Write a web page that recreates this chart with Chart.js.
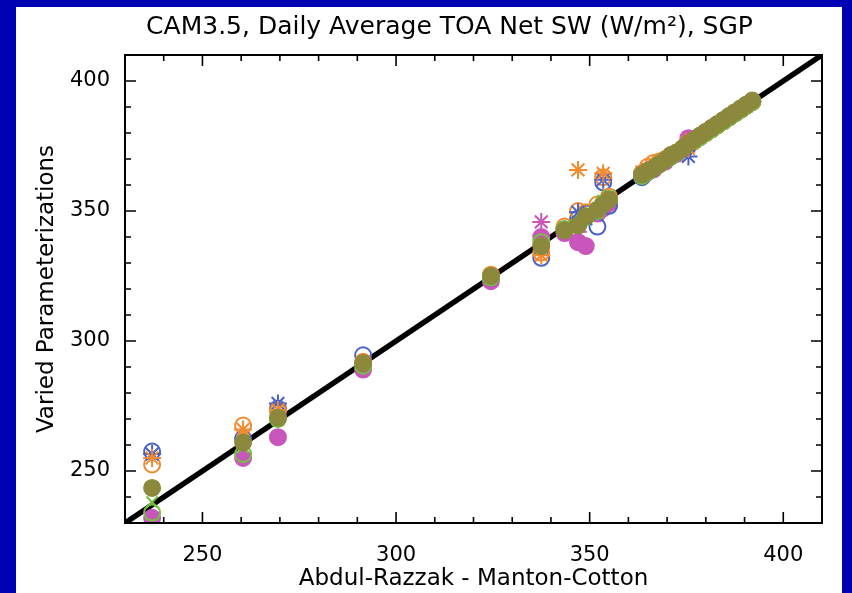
<!DOCTYPE html>
<html>
<head>
<meta charset="utf-8">
<script src="https://cdn.jsdelivr.net/npm/chart.js@4.4.1/dist/chart.umd.min.js"></script>
<style>
  html, body { margin: 0; padding: 0; background: #0000b4; width: 852px; height: 593px; overflow: hidden; }
  #panel { position: absolute; left: 16px; top: 7px; width: 826px; height: 586px; background: #ffffff; }
  canvas { display: block; }
</style>
</head>
<body>
<div id="panel"><canvas id="c" width="826" height="586"></canvas></div>
<script>
// Daily average TOA net shortwave (W/m2) at SGP.
// x: Abdul-Razzak / Manton-Cotton control run; y: runs with varied parameterizations.
const arMc = [237, 260.5, 269.5, 291.5, 324.5, 337.5, 343.5, 347, 349, 352, 353.5, 355,
              363.5, 365, 366.5, 368, 369.5, 371, 372.5, 374, 375.5, 377, 378.5, 380,
              381.5, 383, 384.5, 386, 387.5, 389, 390.5, 392];

const oliveFilled = [243.5, 261, 270.5, 291.5, 325, 336.5, 342.5, 344.5, 348, 350.5, 352.5, 354.5,
                     364, 365.5, 366.5, 368, 369.5, 371.5, 372.5, 374, 376, 377.5, 379, 380.5,
                     382, 383.5, 385, 386.5, 388, 389.5, 391, 392.5];
const blueOpen = [257.5, 262.5, 274, 294.5, 324.5, 332, 343, 347, 349, 344, 361, 352,
                  363, 365, 366.5, 368, 369.5, 371, 372.5, 374, 375, 377, 378.5, 380,
                  381.5, 383, 384.5, 386, 387.5, 389, 390.5, 392];
const blueStar = [256.5, null, 276, null, null, null, null, 349.5, 347, null, 362, null,
                  null, null, null, null, null, null, null, null, 371, null, null, null,
                  null, null, null, null, null, null, null, null];
const orangeOpen = [252.5, 267.5, 273, 292, 325.5, 334, 344, 350, 349.5, 352.5, 363, 355.5,
                    364.5, 367, 368.5, 369, 370, 371.5, 372.5, 374, 376.5, 377, 378.5, 380,
                    381.5, 383, 384.5, 386, 387.5, 389, 390.5, 392];
const orangeStar = [255, 266, 273.5, null, null, 333, null, 365.8, null, null, 364.5, null,
                    365, 366, null, null, null, null, null, null, 374, null, null, null,
                    null, null, null, null, null, null, null, null];
const magentaFilled = [232, 255, 263, 289, 323, 340, 341.5, 338, 336.5, 349, 351, 353,
                       363.5, 365, 366, 368, 369, 371, 372, 374, 378, 377, 378.5, 380,
                       381.5, 383, 384.5, 386, 387.5, 389, 390.5, 392];
const magentaStar = [null, null, null, null, null, 345.8, null, 342, null, null, null, null,
                     null, null, null, null, null, null, null, null, 377.5, null, null, null,
                     null, null, null, null, null, null, null, null];
const greenCross = [238, 259, 269.5, 291, 324, 335, 342, 346, 348, 351, 354, 356,
                    364, 365, 366.5, 368, 369.5, 371, 372.5, 374, 375.5, 377, 378.5, 380,
                    381.5, 383, 384.5, 386, 387.5, 389, 390.5, 392];
const greenOpen = [234, 256.5, 270, 290.5, 324.5, 338, 343, 345, 347.5, 350, 353, 354.5,
                   363.5, 365, 366.5, 368, 369.5, 371, 372.5, 374, 375.5, 377, 378.5, 380,
                   381.5, 383, 384.5, 386, 387.5, 389, 390.5, 392];

const axisMin = 230, axisMax = 410, majorStep = 50, minorStep = 10;
const oneToOne = [axisMin, axisMax];
const chartTitle = 'CAM3.5, Daily Average TOA Net SW (W/m\u00b2), SGP';

const pts = ys => arMc.map((x, i) => (ys[i] === null ? null : {x: x, y: ys[i]})).filter(p => p);

function series(label, ys, color, style, filled, radius) {
  return {
    label: label,
    data: pts(ys),
    pointStyle: style,
    pointRadius: radius,
    pointBorderWidth: 2,
    borderColor: color,
    pointBorderColor: color,
    pointBackgroundColor: filled ? color : 'rgba(0,0,0,0)',
    showLine: false
  };
}

const FONT = 'DejaVu Sans';

// Inward ticks on all four sides, the box frame and the heading.
const frame = {
  id: 'frame',
  afterDatasetsDraw(chart) {
    const {ctx, chartArea: a, scales: {x, y}} = chart;
    ctx.save();
    ctx.strokeStyle = '#000';
    ctx.lineWidth = 2;
    ctx.strokeRect(a.left, a.top, a.right - a.left, a.bottom - a.top);
    ctx.lineWidth = 1.6;
    ctx.beginPath();
    for (let v = axisMin; v <= axisMax; v += minorStep) {
      const len = v % majorStep === 0 ? 11 : 6;
      const px = x.getPixelForValue(v);
      ctx.moveTo(px, a.bottom); ctx.lineTo(px, a.bottom - len);
      ctx.moveTo(px, a.top); ctx.lineTo(px, a.top + len);
      const py = y.getPixelForValue(v);
      ctx.moveTo(a.left, py); ctx.lineTo(a.left + len, py);
      ctx.moveTo(a.right, py); ctx.lineTo(a.right - len, py);
    }
    ctx.stroke();
    ctx.fillStyle = '#000';
    ctx.font = '25px "' + FONT + '"';
    ctx.textAlign = 'center';
    ctx.textBaseline = 'middle';
    ctx.fillText(chartTitle, (a.left + a.right) / 2 - 24, 20);
    ctx.restore();
  }
};

new Chart(document.getElementById('c'), {
  type: 'scatter',
  data: {
    datasets: [
      series('Olive', oliveFilled, '#8c883c', 'circle', true, 8),
      series('Orange star', orangeStar, '#f28a2e', 'star', false, 9),
      series('Blue star', blueStar, '#4a62c8', 'star', false, 9),
      series('Magenta star', magentaStar, '#c856bc', 'star', false, 9),
      series('Green cross', greenCross, '#72c23e', 'crossRot', false, 8),
      series('Green open', greenOpen, '#72c23e', 'circle', false, 8),
      series('Orange open', orangeOpen, '#f28a2e', 'circle', false, 8),
      series('Blue open', blueOpen, '#4a62c8', 'circle', false, 8),
      series('Magenta', magentaFilled, '#c856bc', 'circle', true, 8),
      {
        label: '1:1',
        data: oneToOne.map(v => ({x: v, y: v})),
        showLine: true,
        borderColor: '#000',
        borderWidth: 5.5,
        pointRadius: 0,
        pointHoverRadius: 0
      }
    ]
  },
  options: {
    responsive: false,
    animation: false,
    events: [],
    layout: { padding: { left: 0, right: 20, top: 48, bottom: 0 } },
    plugins: {
      legend: { display: false },
      tooltip: { enabled: false },
      title: { display: false }
    },
    scales: {
      x: {
        type: 'linear',
        min: axisMin, max: axisMax,
        grid: { display: false },
        border: { display: false },
        afterFit(s) { s.height = 70; },
        ticks: {
          stepSize: minorStep,
          autoSkip: false,
          maxRotation: 0,
          color: '#000',
          padding: 12,
          font: { family: FONT, size: 21 },
          callback: v => (v % majorStep === 0 ? String(v) : '')
        },
        title: {
          display: true,
          text: 'Abdul-Razzak - Manton-Cotton',
          color: '#000',
          font: { family: FONT, size: 23, lineHeight: 1.2 },
          padding: { top: 0, bottom: 0 }
        }
      },
      y: {
        type: 'linear',
        min: axisMin, max: axisMax,
        grid: { display: false },
        border: { display: false },
        afterFit(s) { s.width = 109; },
        ticks: {
          stepSize: minorStep,
          autoSkip: false,
          color: '#000',
          padding: 7,
          font: { family: FONT, size: 21 },
          callback: v => (v % majorStep === 0 ? String(v) : '')
        },
        title: {
          display: true,
          text: 'Varied Parameterizations',
          color: '#000',
          font: { family: FONT, size: 23, lineHeight: 1.2 },
          padding: { top: 17, bottom: 0 }
        }
      }
    }
  },
  plugins: [frame]
});
</script>
</body>
</html>
